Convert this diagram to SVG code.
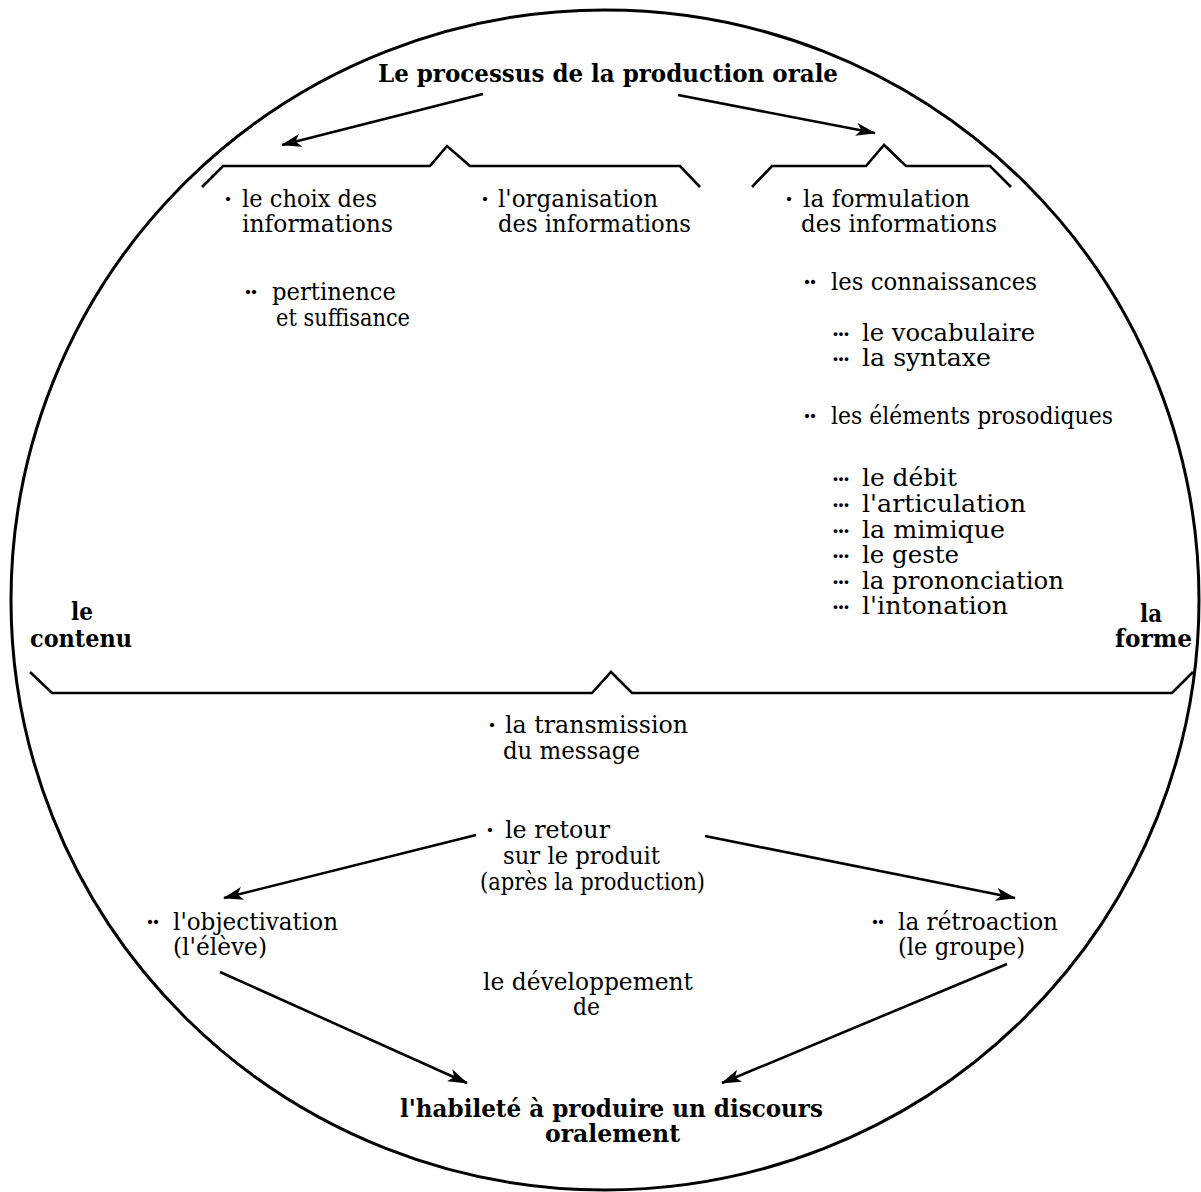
<svg xmlns="http://www.w3.org/2000/svg" width="1201" height="1192" viewBox="0 0 1201 1192">
  <defs>
    <marker id="arrowhead" markerUnits="userSpaceOnUse" viewBox="0 0 20 14" refX="19" refY="7" markerWidth="20" markerHeight="14" orient="auto">
      <path d="M0,0.5 L20,7 L0,13.5 L5,7 Z" fill="#000"/>
    </marker>
    <style>
      .ring { fill: none; stroke: #000; stroke-width: 3; }
      .brace { fill: none; stroke: #000; stroke-width: 2.6; stroke-linejoin: miter; }
      .link { fill: none; stroke: #000; stroke-width: 2.6; marker-end: url(#arrowhead); }
      text { font-family: "DejaVu Serif", "Liberation Serif", serif; fill: #000; }
      .t { font-size: 23.5px; }
      .b { font-size: 25px; font-weight: bold; }
      .dot { font-size: 23px; font-weight: bold; }
      .dot3 { font-size: 20px; font-weight: bold; }
    </style>
  </defs>

  <rect width="1201" height="1192" fill="#fff"/>

  <!-- outer circle -->
  <ellipse class="ring" cx="605" cy="600" rx="594" ry="590"/>

  <!-- braces -->
  <g id="braces">
    <path class="brace" d="M202,187 L223,166 L430,166 L447,146 L470,166 L680,166 L700,187"/>
    <path class="brace" d="M752,187 L772,166 L866,166 L884,145 L906,166 L990,166 L1011,187"/>
    <path class="brace" d="M30,672 L52,693 L592,693 L611,672 L632,693 L1172,693 L1193,672"/>
  </g>

  <!-- connectors -->
  <g id="connectors">
    <line class="link" x1="483" y1="94" x2="282" y2="145"/>
    <line class="link" x1="678" y1="95" x2="875" y2="133"/>
    <line class="link" x1="476" y1="835" x2="224" y2="898"/>
    <line class="link" x1="705" y1="836" x2="1015" y2="898"/>
    <line class="link" x1="220" y1="972" x2="467" y2="1083"/>
    <line class="link" x1="1007" y1="964" x2="722" y2="1083"/>
  </g>

  <g id="title">
    <text class="b" x="378" y="82" textLength="460" lengthAdjust="spacingAndGlyphs">Le processus de la production orale</text>
  </g>

  <g id="choix">
    <text class="dot" x="224" y="207">·</text>
    <text class="t"><tspan x="242" y="207" textLength="135" lengthAdjust="spacingAndGlyphs">le choix des</tspan><tspan x="242" y="232" textLength="151" lengthAdjust="spacingAndGlyphs">informations</tspan></text>
  </g>

  <g id="pertinence">
    <text class="dot" x="244" y="300" textLength="14" lengthAdjust="spacing">··</text>
    <text class="t"><tspan x="272" y="300" textLength="124" lengthAdjust="spacingAndGlyphs">pertinence</tspan><tspan x="276" y="326" textLength="134" lengthAdjust="spacingAndGlyphs">et suffisance</tspan></text>
  </g>

  <g id="organisation">
    <text class="dot" x="481" y="207">·</text>
    <text class="t"><tspan x="498" y="207" textLength="160" lengthAdjust="spacingAndGlyphs">l'organisation</tspan><tspan x="498" y="232" textLength="193" lengthAdjust="spacingAndGlyphs">des informations</tspan></text>
  </g>

  <g id="formulation">
    <text class="dot" x="785" y="207">·</text>
    <text class="t"><tspan x="803" y="207" textLength="167" lengthAdjust="spacingAndGlyphs">la formulation</tspan><tspan x="801" y="232" textLength="196" lengthAdjust="spacingAndGlyphs">des informations</tspan></text>
  </g>

  <g id="connaissances">
    <text class="dot" x="803" y="290" textLength="14" lengthAdjust="spacing">··</text>
    <text class="t" x="831" y="290" textLength="206" lengthAdjust="spacingAndGlyphs">les connaissances</text>
    <text class="dot3" x="832" y="341" textLength="18" lengthAdjust="spacing">···</text>
    <text class="t" x="862" y="341" textLength="173" lengthAdjust="spacingAndGlyphs">le vocabulaire</text>
    <text class="dot3" x="832" y="366" textLength="18" lengthAdjust="spacing">···</text>
    <text class="t" x="862" y="366" textLength="129" lengthAdjust="spacingAndGlyphs">la syntaxe</text>
  </g>

  <g id="prosodie">
    <text class="dot" x="803" y="424" textLength="14" lengthAdjust="spacing">··</text>
    <text class="t" x="831" y="424" textLength="282" lengthAdjust="spacingAndGlyphs">les éléments prosodiques</text>
    <text class="dot3" x="832" y="486" textLength="18" lengthAdjust="spacing">···</text>
    <text class="t" x="862" y="486" textLength="95" lengthAdjust="spacingAndGlyphs">le débit</text>
    <text class="dot3" x="832" y="512" textLength="18" lengthAdjust="spacing">···</text>
    <text class="t" x="862" y="512" textLength="164" lengthAdjust="spacingAndGlyphs">l'articulation</text>
    <text class="dot3" x="832" y="538" textLength="18" lengthAdjust="spacing">···</text>
    <text class="t" x="862" y="538" textLength="143" lengthAdjust="spacingAndGlyphs">la mimique</text>
    <text class="dot3" x="832" y="563" textLength="18" lengthAdjust="spacing">···</text>
    <text class="t" x="862" y="563" textLength="97" lengthAdjust="spacingAndGlyphs">le geste</text>
    <text class="dot3" x="832" y="589" textLength="18" lengthAdjust="spacing">···</text>
    <text class="t" x="862" y="589" textLength="202" lengthAdjust="spacingAndGlyphs">la prononciation</text>
    <text class="dot3" x="832" y="614" textLength="18" lengthAdjust="spacing">···</text>
    <text class="t" x="862" y="614" textLength="146" lengthAdjust="spacingAndGlyphs">l'intonation</text>
  </g>

  <g id="contenu">
    <text class="b"><tspan x="71" y="620" textLength="22" lengthAdjust="spacingAndGlyphs">le</tspan><tspan x="30" y="647" textLength="102" lengthAdjust="spacingAndGlyphs">contenu</tspan></text>
  </g>

  <g id="forme">
    <text class="b"><tspan x="1140" y="622" textLength="22" lengthAdjust="spacingAndGlyphs">la</tspan><tspan x="1115" y="647" textLength="77" lengthAdjust="spacingAndGlyphs">forme</tspan></text>
  </g>

  <g id="transmission">
    <text class="dot" x="488" y="733">·</text>
    <text class="t"><tspan x="505" y="733" textLength="183" lengthAdjust="spacingAndGlyphs">la transmission</tspan><tspan x="503" y="759" textLength="137" lengthAdjust="spacingAndGlyphs">du message</tspan></text>
  </g>

  <g id="retour">
    <text class="dot" x="486" y="838">·</text>
    <text class="t"><tspan x="505" y="838" textLength="105" lengthAdjust="spacingAndGlyphs">le retour</tspan><tspan x="503" y="864" textLength="157" lengthAdjust="spacingAndGlyphs">sur le produit</tspan><tspan x="480" y="890" textLength="225" lengthAdjust="spacingAndGlyphs">(après la production)</tspan></text>
  </g>

  <g id="objectivation">
    <text class="dot" x="146" y="930" textLength="14" lengthAdjust="spacing">··</text>
    <text class="t"><tspan x="173" y="930" textLength="165" lengthAdjust="spacingAndGlyphs">l'objectivation</tspan><tspan x="173" y="955" textLength="94" lengthAdjust="spacingAndGlyphs">(l'élève)</tspan></text>
  </g>

  <g id="retroaction">
    <text class="dot" x="871" y="930" textLength="14" lengthAdjust="spacing">··</text>
    <text class="t"><tspan x="898" y="930" textLength="160" lengthAdjust="spacingAndGlyphs">la rétroaction</tspan><tspan x="898" y="955" textLength="127" lengthAdjust="spacingAndGlyphs">(le groupe)</tspan></text>
  </g>

  <g id="developpement">
    <text class="t"><tspan x="483" y="990" textLength="210" lengthAdjust="spacingAndGlyphs">le développement</tspan><tspan x="573" y="1015" textLength="27" lengthAdjust="spacingAndGlyphs">de</tspan></text>
  </g>

  <g id="habilete">
    <text class="b"><tspan x="400" y="1117" textLength="423" lengthAdjust="spacingAndGlyphs">l'habileté à produire un discours</tspan><tspan x="545" y="1142" textLength="135" lengthAdjust="spacingAndGlyphs">oralement</tspan></text>
  </g>
</svg>
